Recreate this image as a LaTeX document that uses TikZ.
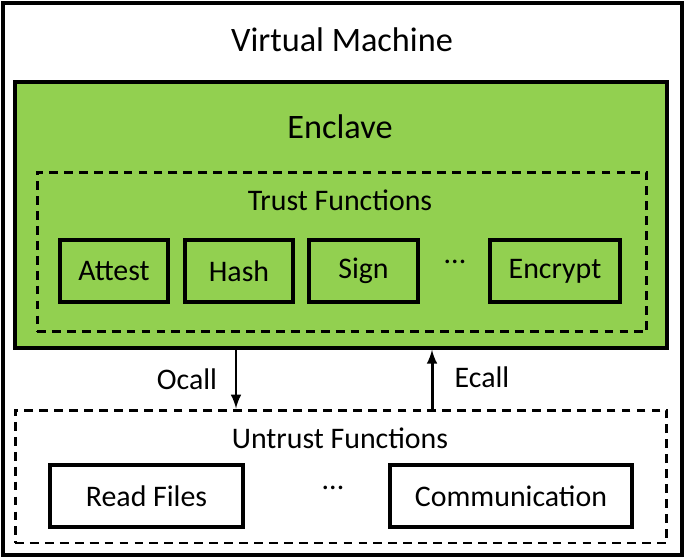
\documentclass[tikz,border=0pt]{standalone}
\usepackage{fontspec}
\setmainfont{Carlito}
\usepackage{xcolor}
\usetikzlibrary{arrows, positioning}
\definecolor{enclavegreen}{HTML}{92D050}

\begin{document}
\begin{tikzpicture}[x=0.02cm, y=-0.02cm]
\tikzstyle{funcbox} = [rectangle, draw, line width=2pt, minimum height=1.24cm, inner sep=0pt, font=\fontsize{17}{20}\selectfont]
\tikzstyle{dashbox} = [rectangle, draw, dash pattern=on 5pt off 3.5pt, line width=1.7pt, inner sep=0pt]
\tikzstyle{label} = [font=\fontsize{17}{20}\selectfont]
\tikzstyle{arrow} = [line width=1.7pt, ->, >=latex]

\useasboundingbox (0,0) rectangle (685,558);
\node (vm) [rectangle, draw, line width=2.2pt, minimum width=13.58cm, minimum height=11.04cm] at (342.5,279) {};
\node (vmtitle) [font=\fontsize{19.5}{23}\selectfont] at (342,40) {Virtual Machine};

\node (enclave) [rectangle, draw, line width=2pt, fill=enclavegreen, minimum width=13.04cm, minimum height=5.32cm] at (341,215) {};
\node (enctitle) [font=\fontsize{19.5}{23}\selectfont] at (340,127) {Enclave};

\node (trust) [dashbox, minimum width=12.2cm, minimum height=3.2cm] at (342,252) {};
\node (trusttitle) [label] at (340,200) {Trust Functions};
\node (attest) [funcbox, minimum width=2.16cm] at (114,271) {Attest};
\node (hash) [funcbox, minimum width=2.16cm] at (239,271) {Hash};
\node (sign) [funcbox, minimum width=2.18cm] at (363.5,271) {Sign};
\node (tdots) [label] at (455,262) {...};
\node (encrypt) [funcbox, minimum width=2.6cm] at (555,271) {Encrypt};

\node (untrust) [dashbox, minimum width=13.04cm, minimum height=2.66cm] at (341,476.5) {};
\node (untrusttitle) [label] at (340,438) {Untrust Functions};
\node (read) [funcbox, minimum width=3.86cm] at (146.5,496) {Read Files};
\node (udots) [label] at (333,488) {...};
\node (comm) [funcbox, minimum width=4.84cm] at (511,496) {Communication};

\coordinate (ocallx) at (236,0);
\coordinate (ecallx) at (432,0);
\draw [arrow] (ocallx |- enclave.south) -- (ocallx |- untrust.north);
\draw [arrow] (ecallx |- untrust.north) -- (ecallx |- enclave.south);
\node (ocall) [label] at (187,379) {Ocall};
\node (ecall) [label] at (482,377) {Ecall};
\end{tikzpicture}
\end{document}
